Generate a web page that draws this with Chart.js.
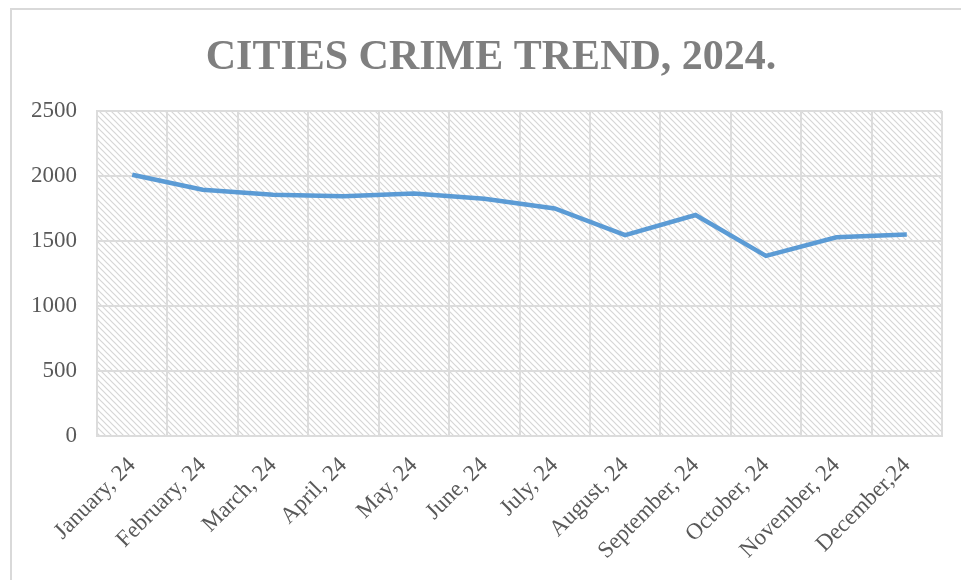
<!DOCTYPE html>
<html>
<head>
<meta charset="utf-8">
<script src="https://cdn.jsdelivr.net/npm/chart.js@4.4.1/dist/chart.umd.min.js"></script>
<style>
    html, body { margin: 0; padding: 0; background: #fff; overflow: hidden; }
    #frame { position: absolute; left: 10px; top: 8px; width: 1000px; height: 620px; border: 2px solid #d9d9d9; box-sizing: border-box; }
    #chart { position: absolute; left: 0; top: 0; }
</style>
</head>
<body>
<div id="frame"></div>
<canvas id="chart" width="961" height="580"></canvas>
<script>
const chartTitle = 'CITIES CRIME TREND, 2024.';
const months = ['January, 24', 'February, 24', 'March, 24', 'April, 24', 'May, 24', 'June, 24',
    'July, 24', 'August, 24', 'September, 24', 'October, 24', 'November, 24', 'December,24'];
const crimes = [2010, 1895, 1855, 1845, 1865, 1825, 1750, 1545, 1700, 1385, 1528, 1550];
const yTicks = [0, 500, 1000, 1500, 2000, 2500];

function makeHatch() {
    const c = document.createElement('canvas');
    c.width = 6; c.height = 6;
    const g = c.getContext('2d');
    g.fillStyle = '#fff';
    g.fillRect(0, 0, 6, 6);
    g.strokeStyle = '#d6d6d6';
    g.lineWidth = 1.2;
    g.beginPath();
    g.moveTo(-1, -1); g.lineTo(7, 7);
    g.moveTo(-1, 5); g.lineTo(1, 7);
    g.moveTo(5, -1); g.lineTo(7, 1);
    g.stroke();
    return g.createPattern(c, 'repeat');
}

const hatchBg = {
    id: 'hatchBg',
    beforeDraw(chart) {
        const { ctx, chartArea: a } = chart;
        ctx.save();
        ctx.fillStyle = makeHatch();
        ctx.fillRect(a.left, a.top, a.right - a.left, a.bottom - a.top);
        ctx.restore();
    },
    afterDraw(chart) {
        const ctx = chart.ctx;
        ctx.save();
        ctx.font = 'bold 42px "Liberation Serif", "Times New Roman", serif';
        ctx.fillStyle = '#7f7f7f';
        ctx.textAlign = 'center';
        ctx.textBaseline = 'alphabetic';
        ctx.fillText(chartTitle, 491, 69);
        ctx.restore();
    }
};

const tickFont = { family: '"Liberation Serif", "Times New Roman", serif', size: 23 };

new Chart(document.getElementById('chart'), {
    type: 'line',
    data: {
        labels: months,
        datasets: [{
            data: crimes,
            borderColor: '#5b9bd5',
            borderWidth: 4.5,
            pointRadius: 0,
            tension: 0,
            fill: false
        }]
    },
    options: {
        responsive: false,
        animation: false,
        layout: { padding: { top: 111, right: 19, left: 0, bottom: 0 } },
        plugins: { legend: { display: false }, tooltip: { enabled: false } },
        scales: {
            x: {
                offset: true,
                grid: { offset: true, color: '#dcdcdc', lineWidth: 2, drawTicks: false },
                border: { color: '#dcdcdc', width: 2 },
                ticks: { color: '#595959', font: tickFont, minRotation: 45, maxRotation: 45, padding: 16, autoSkip: false },
                afterFit(s) { s.height = 144; }
            },
            y: {
                min: 0, max: 2500,
                afterBuildTicks(s) { s.ticks = yTicks.map(v => ({ value: v })); },
                grid: { color: '#dcdcdc', lineWidth: 2, drawTicks: false },
                border: { color: '#dcdcdc', width: 2 },
                ticks: { color: '#595959', font: tickFont, padding: 20, callback: v => String(v) },
                afterFit(s) { s.width = 97; }
            }
        }
    },
    plugins: [hatchBg]
});
</script>
</body>
</html>
